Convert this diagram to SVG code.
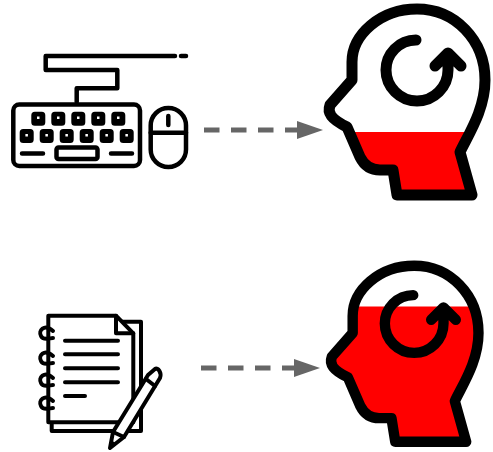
<svg xmlns="http://www.w3.org/2000/svg" width="493" height="452" viewBox="0 0 493 452">
<style>
.k{fill:none;stroke:#000;stroke-linecap:round;stroke-linejoin:round}
.ks{fill:#000;stroke:#000;stroke-width:2;stroke-linejoin:round}
.kd{fill:#fff}
.f{fill:none;stroke:#000;stroke-width:4.5;stroke-linecap:round;stroke-linejoin:round}
.n{fill:none;stroke:#000;stroke-width:4;stroke-linecap:round;stroke-linejoin:round}
.dash{stroke:#666;stroke-width:5;fill:none;stroke-dasharray:15.5 11.5}
.ah{fill:#666}
</style>
<defs>
<path id="hp" d="M397,195H472L460,152C468,135 485,110 485,80C485,40 455,9 417,9C380,9 352,35 352,62V80L330,105C327,113 331,119 347,127L360,157C364,165 371,170 380,170H393Z"/>
<clipPath id="c1"><rect x="320" y="132" width="173" height="70"/></clipPath>
<clipPath id="c2"><rect x="320" y="52" width="173" height="150"/></clipPath>
<g id="hs">
<use href="#hp" fill="none" stroke="#000" stroke-width="11" stroke-linejoin="round"/>
<path d="M416,40C399,40 386,54 386,70C386,87 400,101 417,101C434,101 448,87 448,70V54M435,66L448,53L461,66" fill="none" stroke="#000" stroke-width="11" stroke-linecap="round" stroke-linejoin="round"/>
</g>
</defs>
<g id="connectors">
<path class="dash" d="M204,130H297"/><path class="ah" d="M297,121L323,130L297,139Z"/>
<path class="dash" d="M201,368H295"/><path class="ah" d="M294,359L320,368L294,377Z"/>
</g>
<g id="keyboard">
<path class="f" d="M76.700,102V88.300H117.300V70H45.700V56H175"/>
<path d="M181,56H186" class="f"/>
<rect x="13.300" y="104.500" width="126.700" height="61.500" rx="6" class="f"/>
<g class="ks">
<rect x="32.300" y="112.700" width="12" height="12" rx="2.500"/><rect x="52.300" y="112.700" width="12" height="12" rx="2.500"/><rect x="72.300" y="112.700" width="12" height="12" rx="2.500"/><rect x="92.300" y="112.700" width="12" height="12" rx="2.500"/><rect x="112.300" y="112.700" width="12" height="12" rx="2.500"/>
<rect x="20.700" y="130" width="12" height="12" rx="2.500"/><rect x="40.700" y="130" width="12" height="12" rx="2.500"/><rect x="60.700" y="130" width="12" height="12" rx="2.500"/><rect x="80.700" y="130" width="12" height="12" rx="2.500"/><rect x="100.700" y="130" width="12" height="12" rx="2.500"/><rect x="120.700" y="130" width="12" height="12" rx="2.500"/>
</g>
<g class="kd">
<rect x="37" y="116.500" width="2.500" height="2.500"/><rect x="57" y="116.500" width="2.500" height="2.500"/><rect x="77" y="116.500" width="2.500" height="2.500"/><rect x="97" y="116.500" width="2.500" height="2.500"/><rect x="117" y="116.500" width="2.500" height="2.500"/>
<rect x="25.400" y="134" width="2.500" height="2.500"/><rect x="45.400" y="134" width="2.500" height="2.500"/><rect x="65.400" y="134" width="2.500" height="2.500"/><rect x="85.400" y="134" width="2.500" height="2.500"/><rect x="105.400" y="134" width="2.500" height="2.500"/><rect x="125.400" y="134" width="2.500" height="2.500"/>
</g>
<path class="f" d="M22,153.500H43M111,153.500H132"/>
<rect x="56.500" y="147.500" width="41" height="11.500" rx="2" class="f"/>
</g>
<g id="mouse">
<rect x="150.700" y="108" width="35.300" height="59" rx="17.600" class="f"/>
<path class="f" d="M150.700,132.700H186"/>
<path class="f" d="M168.300,116V125" stroke-width="5"/>
</g>
<g id="notebook">
<path class="n" d="M121.700,321.700H141V431H51.700V422.500"/>
<path d="M48.300,315.700H116L133.300,333.300V422.300H48.300Z" fill="#fff" stroke="#000" stroke-width="4" stroke-linejoin="round"/>
<path class="n" d="M116,315.700V333.300H133.300"/>
<path class="n" d="M65,340.700H118M65,354.300H118M65,368.300H118M65,382.300H118M65,396H85"/>
<path class="n" d="M53,331C44,323 38,331 41,336C43,341 50,338 53,338M53,356C44,348 38,356 41,361C43,366 50,363 53,363M53,378C44,370 38,378 41,383C43,388 50,385 53,385M53,401C44,393 38,401 41,406C43,411 50,408 53,408"/>
<path d="M110,448L113,432L148,375L155,369C158,367 162,373 160,378L124,437Z" fill="#fff" stroke="#000" stroke-width="4" stroke-linejoin="round"/>
<path class="n" d="M146,379L155,386M113,432L124,437"/>
<path d="M109.500,449L111,440L117,444Z" fill="#000"/>
</g>
<g id="head-top">
<use href="#hp" fill="#f00" clip-path="url(#c1)"/>
<use href="#hs"/>
</g>
<g id="head-bottom" transform="translate(322.400,0) scale(0.946) translate(-320,272)">
<use href="#hp" fill="#f00" clip-path="url(#c2)"/>
<use href="#hs"/>
</g>
</svg>
